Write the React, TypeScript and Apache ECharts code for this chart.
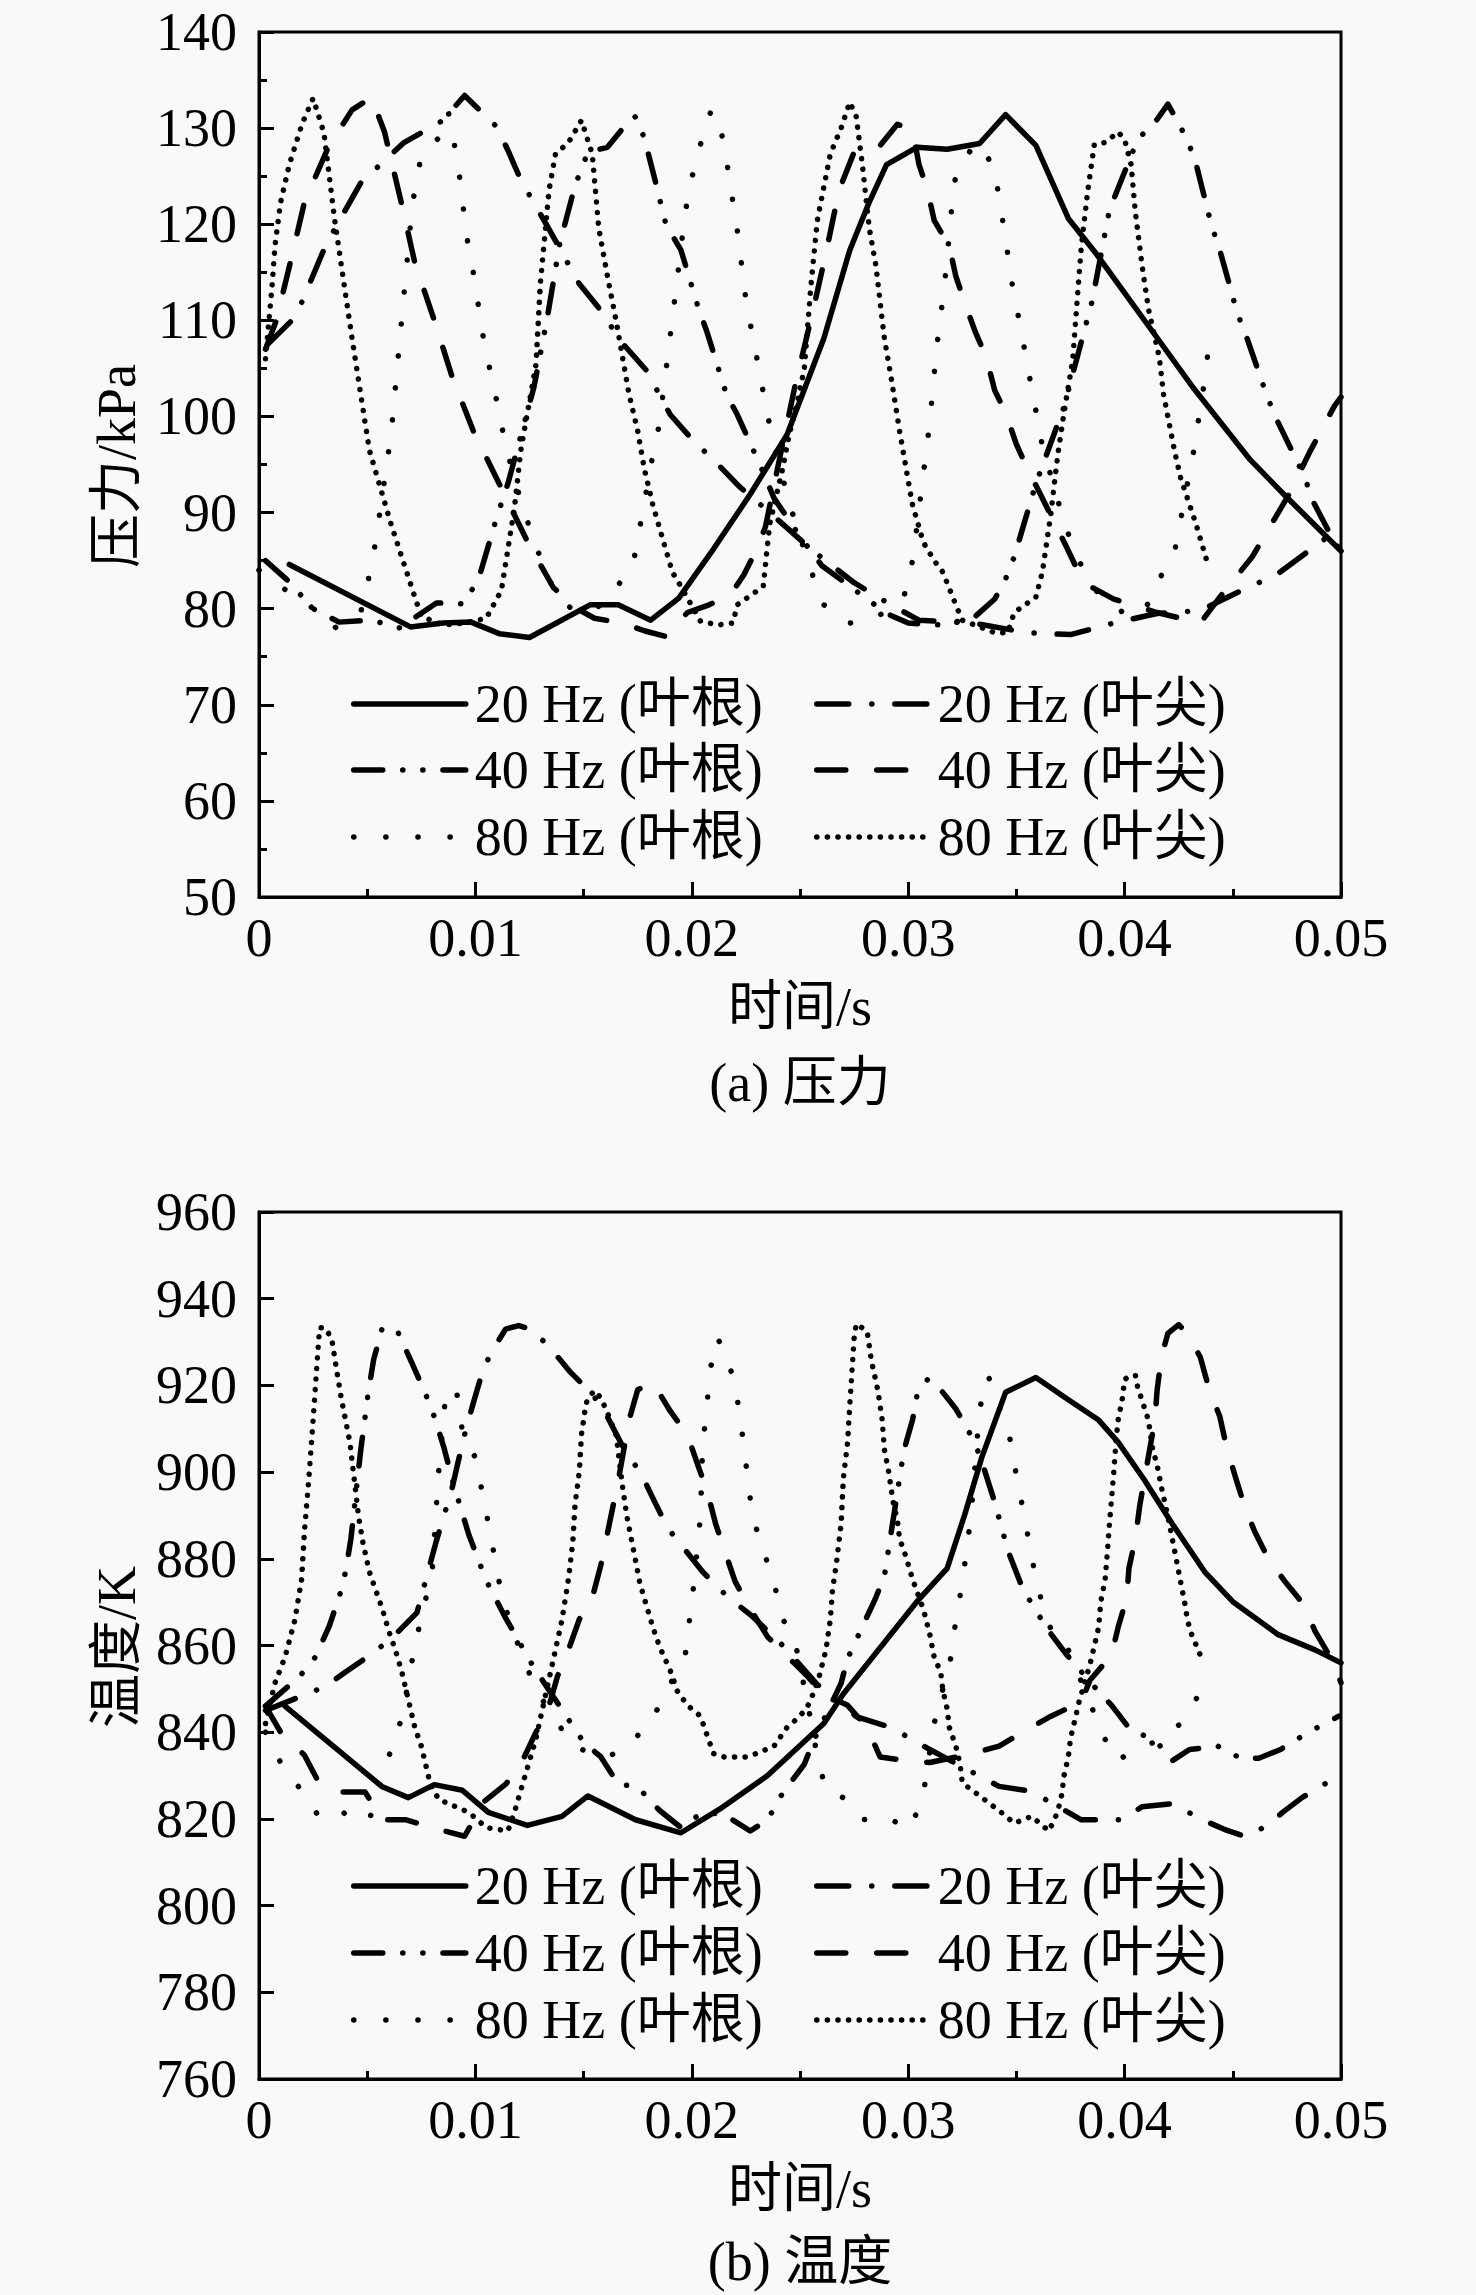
import { useEffect, useRef } from "react"
import * as echarts from "echarts"

const FONT = "'Liberation Serif', 'Times New Roman', 'Noto Sans CJK SC', serif"

const SERIES_NAMES = ["20 Hz (叶根)", "20 Hz (叶尖)", "40 Hz (叶根)", "40 Hz (叶尖)", "80 Hz (叶根)", "80 Hz (叶尖)"]

// time in ms, pressure in kPa
const pressure20Root = [
  [1.4, 84.6], [7.0, 78.1], [8.5, 78.5], [9.8, 78.6], [11.1, 77.4], [12.5, 77.0], [15.3, 80.4], [16.6, 80.4],
  [18.1, 78.8], [19.4, 81.1], [21.0, 86.2], [22.7, 91.9], [24.4, 98.1], [26.1, 108.1], [27.3, 117.3], [28.2, 122.3],
  [29.0, 126.2], [30.4, 128.0], [31.8, 127.8], [33.3, 128.4], [34.5, 131.4], [35.9, 128.2], [37.4, 120.6],
  [38.7, 116.9], [41.4, 108.5], [43.2, 102.9], [45.8, 95.5], [47.4, 91.8], [50.0, 86.0],
]
const pressure20Tip = [
  [0.4, 107.5], [1.7, 110.4], [3.1, 117.9], [4.7, 124.3], [6.7, 128.5], [8.5, 130.8], [9.5, 133.4], [11.0, 130.1],
  [11.5, 127.7], [12.1, 124.6], [13.4, 119.5], [14.8, 113.8], [15.7, 111.3], [16.8, 107.6], [17.9, 104.8],
  [19.0, 100.2], [20.1, 97.4], [21.0, 95.5], [22.2, 92.7], [23.6, 90.0], [25.5, 86.2], [27.5, 82.7], [29.2, 80.4],
  [30.5, 78.8], [33.0, 78.5], [35.5, 77.5], [37.5, 77.3], [39.5, 78.5], [41.5, 79.5], [43.5, 79.8], [45.5, 82.0],
  [47.0, 83.5], [48.5, 86.0], [50.0, 88.5],
]
const pressure40Root = [
  [0.3, 85.0], [1.3, 83.0], [2.5, 80.0], [3.7, 78.6], [5.2, 78.8], [6.5, 78.0], [8.2, 80.6], [9.5, 80.5],
  [10.2, 83.5], [11.0, 89.6], [11.5, 93.0], [12.1, 98.0], [12.7, 103.0], [13.3, 110.0], [13.9, 118.0],
  [14.6, 124.0], [15.2, 127.5], [16.1, 128.0], [17.0, 130.5], [17.4, 131.2], [17.8, 129.0], [18.3, 124.6],
  [18.8, 120.0], [19.5, 117.3], [20.3, 111.3], [20.7, 108.8], [21.6, 102.3], [22.1, 100.2], [23.3, 94.2],
  [23.8, 91.5], [25.0, 87.5], [26.0, 84.5], [27.5, 82.0], [29.0, 79.5], [30.0, 78.5], [31.5, 78.3], [33.0, 79.0],
  [34.0, 81.0], [34.5, 83.1], [34.9, 85.4], [35.9, 93.0], [37.2, 101.0], [38.5, 112.0], [39.3, 121.5],
  [40.6, 128.8], [41.5, 130.9], [42.0, 132.5], [42.9, 128.8], [43.3, 126.3], [44.0, 120.0], [44.4, 117.3],
  [45.2, 110.8], [45.6, 108.5], [46.6, 102.0], [47.0, 99.8], [48.3, 93.8], [48.7, 91.2], [49.7, 86.9], [50.0, 86.0],
]
const pressure40Tip = [
  [0.3, 107.0], [0.8, 110.0], [1.5, 116.5], [2.1, 122.3], [3.2, 128.0], [4.3, 131.9], [5.2, 133.2], [5.8, 129.6],
  [6.6, 122.0], [7.2, 116.0], [8.1, 110.0], [8.9, 104.3], [9.9, 98.5], [11.1, 93.0], [12.4, 87.0], [13.6, 82.2],
  [14.7, 80.0], [15.5, 79.0], [16.8, 78.5], [17.8, 77.7], [18.8, 77.1], [19.8, 79.6], [20.8, 80.4], [21.8, 81.5],
  [22.4, 83.5], [23.0, 86.2], [23.4, 88.5], [24.0, 95.0], [24.8, 103.5], [25.6, 111.0], [26.2, 117.0],
  [26.8, 123.5], [27.5, 127.5], [28.6, 127.9], [29.5, 130.4], [30.2, 129.8], [30.5, 126.2], [30.9, 123.5],
  [31.2, 120.4], [31.9, 117.7], [32.2, 114.6], [32.6, 111.9], [33.1, 108.8], [33.6, 106.2], [34.0, 102.7],
  [34.5, 100.4], [35.0, 97.1], [35.5, 94.6], [36.2, 91.5], [36.7, 89.2], [37.3, 86.5], [38.1, 82.7], [39.5, 81.0],
  [41.5, 79.6], [43.5, 78.5], [44.4, 81.2], [45.9, 85.4], [47.6, 91.9], [48.6, 96.5], [49.7, 101.1], [50.0, 102.0],
]
const pressure80Root = [
  [0.0, 84.0], [1.2, 82.0], [2.1, 80.8], [2.9, 79.2], [3.5, 78.0], [4.7, 79.6], [5.1, 83.5], [5.4, 87.1],
  [6.1, 98.1], [6.4, 105.4], [6.7, 112.7], [7.0, 120.0], [7.2, 123.7], [7.5, 127.1], [8.4, 129.2], [8.75, 131.7],
  [9.2, 126.2], [9.6, 118.7], [9.9, 115.0], [10.4, 107.7], [11.1, 100.4], [11.4, 96.9], [12.0, 92.0], [12.7, 87.0],
  [13.8, 81.0], [14.8, 79.5], [16.0, 80.5], [16.5, 82.1], [17.3, 84.8], [17.6, 88.5], [18.2, 96.0], [18.5, 99.2],
  [18.9, 106.5], [19.3, 113.8], [19.7, 121.3], [20.0, 124.8], [20.4, 128.3], [20.9, 131.9], [21.3, 130.4],
  [21.6, 126.7], [22.1, 119.4], [22.5, 112.1], [22.8, 108.5], [23.1, 105.0], [23.4, 101.3], [23.7, 98.0],
  [24.5, 91.0], [25.5, 84.0], [26.1, 80.4], [27.3, 78.5], [28.5, 79.0], [29.8, 81.2], [30.2, 85.0], [30.4, 88.5],
  [30.8, 95.8], [31.0, 99.4], [31.3, 106.9], [31.5, 110.4], [31.7, 114.2], [32.0, 121.5], [32.2, 125.2],
  [33.1, 128.5], [34.0, 126.0], [34.2, 122.5], [34.5, 118.7], [34.7, 115.0], [35.0, 111.5], [35.3, 107.9],
  [35.6, 104.2], [35.9, 100.6], [36.2, 96.9], [36.7, 93.0], [37.2, 89.0], [37.7, 86.0], [38.3, 83.0], [39.0, 81.0],
  [40.0, 79.5], [40.9, 79.6], [41.4, 82.3], [42.3, 85.8], [43.2, 96.5], [43.7, 103.8], [43.9, 107.5],
]
const pressure80Tip = [
  [0.3, 106.0], [0.6, 113.5], [0.75, 118.0], [1.0, 122.3], [1.4, 126.2], [2.0, 130.5], [2.5, 133.1], [3.0, 129.5],
  [3.5, 120.4], [4.3, 108.1], [5.1, 96.5], [6.1, 88.8], [7.1, 81.9], [7.5, 79.2], [8.5, 78.3], [9.5, 78.5],
  [10.5, 79.0], [11.2, 81.9], [11.8, 90.4], [12.1, 96.5], [12.8, 105.4], [13.0, 113.8], [13.4, 123.5],
  [13.7, 127.3], [14.3, 128.5], [14.9, 130.8], [15.4, 127.3], [15.7, 119.6], [16.1, 114.6], [16.5, 110.0],
  [17.1, 102.3], [17.5, 98.5], [17.8, 94.6], [18.2, 90.8], [18.7, 86.9], [19.1, 83.8], [19.4, 82.7], [20.4, 78.7],
  [21.2, 78.3], [21.9, 78.5], [22.1, 80.4], [23.3, 82.3], [23.6, 88.8], [24.2, 94.6], [24.5, 98.1], [24.85, 101.2],
  [25.2, 105.0], [25.5, 113.5], [25.8, 120.4], [26.4, 127.3], [26.9, 130.0], [27.3, 132.7], [27.6, 131.2],
  [27.9, 125.8], [28.2, 119.6], [28.5, 115.8], [28.9, 108.1], [29.2, 104.2], [29.6, 98.5], [29.9, 94.6],
  [30.2, 90.8], [30.7, 86.9], [31.2, 85.0], [31.6, 83.8], [32.2, 80.4], [32.5, 78.8], [34.0, 77.5], [34.6, 77.5],
  [34.9, 79.6], [35.9, 81.2], [36.2, 83.8], [36.6, 90.0], [36.9, 95.8], [37.2, 100.4], [37.6, 105.8],
  [37.8, 111.9], [38.0, 117.7], [38.3, 123.5], [38.6, 128.3], [39.1, 128.5], [39.7, 129.6], [40.0, 128.8],
  [40.3, 126.2], [40.5, 121.2], [40.8, 115.8], [41.1, 111.2], [41.6, 106.2], [41.8, 102.3], [42.3, 96.5],
  [42.6, 93.5], [42.9, 91.5], [43.3, 88.8], [43.6, 86.5], [43.9, 84.2],
]

// time in ms, temperature in K
const temp20Root = [
  [1.2, 846.0], [5.7, 827.4], [6.9, 824.9], [8.1, 827.9], [9.4, 826.6], [10.6, 821.5], [12.4, 818.5], [14.0, 820.6],
  [15.2, 825.3], [17.4, 819.8], [19.5, 816.8], [21.3, 822.3], [23.5, 830.0], [26.1, 842.0], [27.0, 848.8],
  [28.5, 858.2], [30.4, 870.1], [31.8, 877.8], [32.6, 890.0], [33.4, 903.4], [34.5, 918.4], [35.9, 921.8],
  [37.4, 916.7], [38.8, 912.0], [39.7, 906.9], [40.9, 898.3], [42.2, 888.1], [43.7, 877.0], [45.0, 870.1],
  [47.1, 862.5], [48.8, 859.0], [50.0, 856.0],
]
const temp20Tip = [
  [0.3, 845.0], [3.05, 850.5], [4.0, 853.9], [5.2, 858.0], [6.2, 862.0], [7.3, 867.6], [7.7, 875.0], [8.2, 884.2],
  [8.9, 895.8], [9.45, 907.7], [9.85, 915.0], [10.3, 922.7], [10.7, 927.4], [11.4, 933.0], [12.0, 933.8],
  [12.6, 932.9], [13.4, 929.0], [14.4, 923.0], [15.4, 918.0], [16.0, 913.7], [16.8, 906.0], [17.7, 899.2],
  [18.2, 894.0], [18.9, 887.0], [20.5, 877.0], [21.6, 871.5], [22.8, 866.7], [24.2, 860.0], [25.8, 851.0],
  [27.6, 843.6], [29.2, 841.1], [31.0, 836.0], [32.5, 832.0], [34.2, 827.5], [35.4, 826.6], [36.2, 824.9],
  [38.0, 819.8], [39.9, 819.8], [40.8, 822.8], [42.2, 823.5], [43.6, 819.8], [44.6, 817.6], [45.6, 815.9],
  [46.6, 818.5], [47.3, 821.5], [48.2, 824.9], [49.9, 830.0],
]
const temp40Root = [
  [0.3, 846.0], [1.9, 853.0], [2.6, 857.3], [3.25, 864.5], [3.75, 872.0], [4.0, 877.0], [4.25, 884.7],
  [4.7, 905.0], [5.05, 918.4], [5.3, 926.0], [5.7, 933.3], [6.4, 932.5], [7.1, 924.8], [7.7, 918.0], [8.1, 912.8],
  [8.55, 905.6], [9.0, 897.0], [9.7, 885.5], [10.5, 875.0], [11.4, 866.3], [12.6, 855.8], [13.4, 849.7],
  [15.0, 837.7], [15.8, 834.3], [16.6, 828.0], [17.5, 827.4], [18.5, 822.0], [19.5, 818.0], [20.5, 821.5],
  [21.5, 821.0], [22.7, 817.2], [23.5, 819.8], [24.2, 826.0], [25.2, 832.6], [25.6, 837.7], [26.9, 851.3],
  [27.2, 857.0], [27.85, 864.0], [28.5, 871.0], [28.9, 876.0], [29.8, 905.0], [30.2, 912.0], [30.4, 917.5],
  [30.9, 921.4], [31.6, 918.4], [32.2, 914.6], [32.8, 909.4], [33.3, 904.0], [34.0, 893.0], [34.6, 882.0],
  [35.3, 873.0], [36.4, 864.0], [37.3, 858.0], [38.6, 850.5], [39.4, 846.2], [40.2, 841.0], [41.5, 837.7],
  [42.2, 833.4], [43.0, 836.0], [44.3, 836.8], [45.4, 833.9], [46.2, 834.0], [47.2, 836.0], [48.5, 840.0],
  [49.9, 843.7],
]
const temp40Tip = [
  [0.3, 846.0], [1.0, 840.0], [2.1, 834.7], [2.7, 829.0], [3.7, 826.2], [4.9, 826.2], [5.7, 819.8], [6.8, 819.8],
  [8.0, 818.0], [9.5, 816.0], [10.4, 824.0], [11.4, 828.0], [12.1, 832.6], [12.8, 840.0], [13.4, 846.0],
  [13.8, 853.0], [14.3, 859.0], [14.8, 866.0], [15.4, 871.0], [15.8, 878.6], [16.6, 898.0], [17.1, 912.0],
  [17.5, 919.0], [18.2, 920.7], [19.0, 914.1], [19.8, 908.6], [20.3, 901.3], [20.7, 895.8], [21.1, 888.1],
  [21.5, 882.1], [22.0, 874.8], [22.5, 870.1], [23.5, 862.0], [25.3, 853.1], [26.1, 848.8], [27.2, 846.2],
  [28.1, 841.1], [28.7, 834.3], [29.8, 833.5], [31.0, 833.0], [32.9, 835.0], [34.2, 836.8], [35.4, 840.3],
  [36.6, 843.7], [38.0, 847.0], [38.4, 852.0], [39.4, 857.8], [39.7, 864.2], [40.1, 871.0], [40.2, 877.8],
  [40.5, 884.7], [40.7, 892.3], [41.4, 912.0], [41.5, 918.8], [41.7, 926.5], [42.0, 932.0], [42.5, 934.0],
  [42.9, 932.0], [43.5, 926.5], [43.9, 919.2], [44.4, 912.8], [44.7, 906.0], [45.1, 899.2], [45.5, 892.8],
  [46.0, 886.4], [46.6, 880.4], [47.4, 874.8], [48.3, 869.3], [48.8, 863.3], [49.6, 856.5], [50.0, 851.4],
]
const temp80Root = [
  [0.3, 840.0], [1.3, 830.0], [2.0, 826.6], [2.7, 821.0], [3.6, 822.7], [4.3, 819.8], [5.1, 819.8], [6.1, 836.0],
  [6.6, 843.3], [7.2, 860.0], [8.0, 877.0], [8.3, 900.0], [8.6, 916.3], [9.1, 919.7], [9.45, 907.7],
  [10.0, 903.4], [10.6, 888.1], [11.2, 871.9], [11.7, 863.7], [12.8, 849.7], [14.5, 836.8], [16.0, 834.0],
  [17.1, 836.9], [18.2, 843.3], [19.7, 857.8], [20.1, 874.4], [20.4, 889.8], [20.5, 906.5], [20.7, 914.6],
  [20.8, 922.7], [21.2, 931.0], [21.9, 922.2], [22.2, 914.1], [22.6, 897.9], [22.8, 889.8], [23.3, 882.1],
  [23.8, 874.4], [24.2, 866.3], [24.85, 859.0], [25.5, 842.8], [25.8, 834.3], [26.2, 826.6], [27.0, 824.9],
  [27.9, 819.8], [28.9, 820.6], [30.1, 817.6], [30.7, 825.7], [31.2, 842.0], [32.0, 857.8], [32.2, 865.9],
  [32.5, 874.4], [32.7, 882.1], [32.9, 889.8], [33.3, 914.6], [33.7, 922.2], [34.7, 907.7], [35.0, 899.2],
  [35.3, 891.5], [35.6, 883.4], [35.9, 875.3], [36.3, 867.6], [36.9, 859.9], [37.4, 859.0], [39.0, 839.4],
  [39.6, 833.4], [40.6, 836.0], [41.5, 838.0], [42.6, 842.0], [43.6, 850.0],
]
const temp80Tip = [
  [0.3, 842.0], [0.74, 851.4], [1.2, 857.3], [1.66, 865.9], [1.97, 875.3], [2.1, 886.4], [2.3, 898.3],
  [2.5, 912.0], [2.7, 926.5], [2.8, 933.3], [3.05, 933.3], [3.36, 930.8], [3.6, 923.1], [3.8, 917.1], [4.0, 912.0],
  [4.2, 906.9], [4.4, 898.3], [4.6, 889.8], [4.8, 883.8], [5.1, 877.0], [5.4, 872.7], [5.7, 868.4], [6.0, 863.3],
  [6.3, 859.0], [6.6, 853.9], [7.0, 845.4], [7.2, 841.1], [7.5, 836.8], [7.7, 832.6], [7.9, 828.3], [8.3, 824.5],
  [9.7, 821.5], [10.5, 818.0], [11.5, 817.2], [11.8, 821.5], [12.1, 826.6], [12.5, 833.4], [12.8, 838.5],
  [13.1, 845.4], [13.4, 852.2], [13.7, 859.0], [14.0, 865.9], [14.3, 875.3], [14.5, 883.8], [14.6, 892.3],
  [14.8, 900.0], [14.9, 908.6], [15.1, 915.4], [15.2, 917.1], [15.5, 918.8], [15.8, 917.1], [16.1, 913.7],
  [16.5, 908.6], [16.8, 896.6], [17.0, 889.8], [17.2, 884.7], [17.4, 879.6], [17.6, 874.4], [17.9, 869.3],
  [18.2, 864.2], [18.5, 859.9], [18.8, 856.5], [19.1, 853.1], [19.3, 849.7], [19.8, 846.2], [20.4, 843.7],
  [20.7, 839.4], [21.0, 835.1], [21.5, 834.3], [22.5, 834.3], [23.0, 835.1], [23.8, 836.8], [24.4, 841.1],
  [24.8, 842.8], [25.3, 845.4], [25.6, 848.8], [25.9, 853.1], [26.2, 859.0], [26.4, 865.9], [26.5, 872.7],
  [26.7, 879.6], [26.9, 888.1], [27.0, 898.3], [27.2, 906.9], [27.3, 915.4], [27.4, 923.1], [27.5, 930.8],
  [27.6, 934.2], [28.1, 932.5], [28.3, 925.7], [28.6, 918.8], [28.8, 912.0], [28.9, 905.2], [29.1, 900.0],
  [29.3, 893.2], [29.5, 888.9], [29.6, 884.7], [29.9, 880.4], [30.2, 875.3], [30.7, 868.4], [31.0, 862.5],
  [31.2, 857.3], [31.5, 853.9], [31.6, 849.7], [31.8, 845.4], [31.9, 841.1], [32.2, 836.8], [32.4, 832.6],
  [32.5, 828.3], [33.2, 825.7], [34.3, 821.5], [34.9, 819.0], [35.7, 820.6], [36.5, 817.2], [36.9, 821.5],
  [37.1, 825.7], [37.2, 830.0], [37.4, 834.3], [37.5, 838.5], [37.7, 842.8], [37.9, 847.1], [38.2, 852.2],
  [38.4, 855.6], [38.6, 859.9], [38.8, 864.2], [38.9, 870.1], [39.1, 875.3], [39.2, 881.3], [39.3, 888.1],
  [39.4, 894.0], [39.5, 900.0], [39.6, 906.9], [39.7, 912.0], [39.9, 917.1], [40.0, 921.4], [40.3, 922.3],
  [40.5, 922.3], [40.6, 919.7], [41.1, 912.0], [41.3, 905.2], [41.5, 901.7], [41.7, 896.6], [42.0, 889.8],
  [42.2, 884.7], [42.4, 879.6], [42.6, 874.4], [42.8, 869.3], [42.9, 865.9], [43.1, 862.5], [43.4, 859.0],
  [43.6, 856.5],
]

const PRESSURE_SERIES = [pressure20Root, pressure20Tip, pressure40Root, pressure40Tip, pressure80Root, pressure80Tip]
const TEMP_SERIES = [temp20Root, temp20Tip, temp40Root, temp40Tip, temp80Root, temp80Tip]

// dash patterns matching the legend: solid, dash-dot, dash-dot-dot, dash, sparse dot, dense dot
const DASHES: (string | number[])[] = [
  "solid",
  [32, 23, 0.1, 23],
  [29, 20, 0.1, 20, 0.1, 20],
  [29, 31],
  [0.1, 32],
  [0.1, 10.5],
]
const LINE_W = 5.5

interface PanelProps {
  top: number
  height: number
  gridTop: number
  gridHeight: number
  yMin: number
  yMax: number
  yStep: number
  yMinor: boolean
  yName: string
  yNameY: number
  xNameY: number
  caption: string
  captionY: number
  legendRows: number[]
  data: number[][][]
}

function Panel(p: PanelProps) {
  const ref = useRef<HTMLDivElement>(null)

  useEffect(() => {
    if (!ref.current) return
    const chart = echarts.init(ref.current, null, { renderer: "svg" })
    const tick = { color: "#000", width: 3 }
    const label = { fontSize: 54, fontFamily: FONT, color: "#000" }

    const legends = SERIES_NAMES.map((name, i) => ({
      data: [name],
      left: i % 2 === 0 ? 351 : 814,
      top: p.legendRows[Math.floor(i / 2)] - 30,
      padding: 0,
      itemWidth: 112,
      itemHeight: 20,
      selectedMode: false,
      itemStyle: { opacity: 0 },
      lineStyle: { width: LINE_W, type: DASHES[i] as any, cap: "round" as const, color: "#000" },
      textStyle: { ...label, lineHeight: 60, padding: [0, 0, 0, 4] },
    }))

    const option: echarts.EChartsOption = {
      animation: false,
      grid: {
        left: 259, top: p.gridTop, width: 1082, height: p.gridHeight,
        show: true, borderColor: "#000", borderWidth: 3, backgroundColor: "transparent",
      },
      xAxis: {
        type: "value", min: 0, max: 50, interval: 10,
        axisLine: { show: true, lineStyle: tick },
        axisTick: { show: true, inside: true, length: 15, lineStyle: tick },
        minorTick: { show: true, splitNumber: 2, length: 8, lineStyle: tick },
        splitLine: { show: false },
        axisLabel: { ...label, margin: 14, formatter: (v: number) => (v === 0 ? "0" : String(+(v / 1000).toFixed(3))) },
      },
      yAxis: {
        type: "value", min: p.yMin, max: p.yMax, interval: p.yStep,
        axisLine: { show: true, lineStyle: tick },
        axisTick: { show: true, inside: true, length: 15, lineStyle: tick },
        minorTick: { show: p.yMinor, splitNumber: 2, length: 8, lineStyle: tick },
        splitLine: { show: false },
        axisLabel: { ...label, margin: 22 },
      },
      legend: legends as any,
      graphic: [
        {
          type: "text", x: 117, y: p.yNameY, rotation: Math.PI / 2,
          style: { text: p.yName, fontSize: 54, fontFamily: FONT, fill: "#000", align: "center", verticalAlign: "middle" },
        },
        {
          type: "text", x: 800, y: p.xNameY,
          style: { text: "时间/s", fontSize: 54, fontFamily: FONT, fill: "#000", align: "center", verticalAlign: "middle" },
        },
        {
          type: "text", x: 800, y: p.captionY,
          style: { text: p.caption, fontSize: 54, fontFamily: FONT, fill: "#000", align: "center", verticalAlign: "middle" },
        },
      ],
      series: p.data.map((d, i) => ({
        name: SERIES_NAMES[i],
        type: "line" as const,
        data: d,
        symbol: "none",
        clip: true,
        lineStyle: { color: "#000", width: LINE_W, type: DASHES[i] as any, cap: "round" as const, join: "round" as const },
      })),
    }

    chart.setOption(option)
    return () => chart.dispose()
  }, [p])

  return <div ref={ref} style={{ position: "absolute", left: 0, top: p.top, width: 1476, height: p.height }} />
}

const TOP_PANEL: PanelProps = {
  top: 0, height: 1148, gridTop: 32, gridHeight: 865,
  yMin: 50, yMax: 140, yStep: 10, yMinor: true,
  yName: "压力/kPa", yNameY: 466, xNameY: 1007, caption: "(a) 压力", captionY: 1083,
  legendRows: [704, 770, 837], data: PRESSURE_SERIES,
}
const BOTTOM_PANEL: PanelProps = {
  top: 1148, height: 1147, gridTop: 64, gridHeight: 867,
  yMin: 760, yMax: 960, yStep: 20, yMinor: false,
  yName: "温度/K", yNameY: 499, xNameY: 1041, caption: "(b) 温度", captionY: 1114,
  legendRows: [738, 805, 872], data: TEMP_SERIES,
}

export default function App() {
  return (
    <div style={{ position: "absolute", left: 0, top: 0, width: 1476, height: 2295, background: "#f9f9f9" }}>
      <Panel {...TOP_PANEL} />
      <Panel {...BOTTOM_PANEL} />
    </div>
  )
}
